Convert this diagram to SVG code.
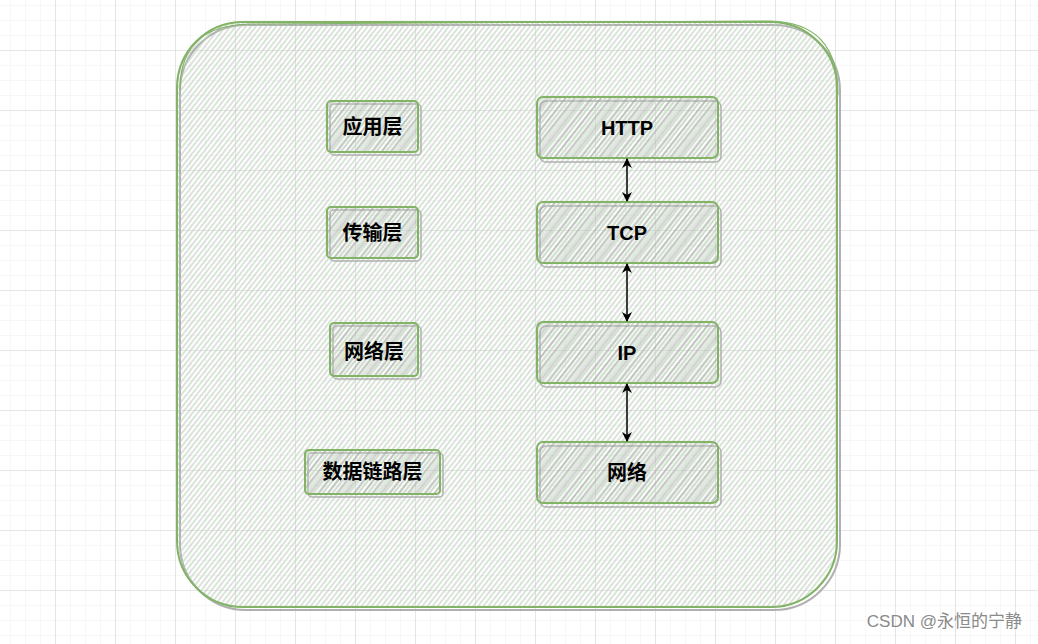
<svg xmlns="http://www.w3.org/2000/svg" width="1038" height="644" viewBox="0 0 1038 644">
<defs>
<pattern id="minor" width="15" height="15" patternUnits="userSpaceOnUse" x="10" y="5">
<path d="M0 0H15M0 0V15" stroke="#efefef" stroke-width="1" fill="none"/>
</pattern>
<pattern id="major" width="60" height="60" patternUnits="userSpaceOnUse" x="55" y="50">
<path d="M0 0H60M0 0V60" stroke="#d3d3d3" stroke-width="1" fill="none"/>
</pattern>
<pattern id="hatch" width="8" height="8" patternUnits="userSpaceOnUse" patternTransform="rotate(-52)">
<line x1="0" y1="2" x2="8" y2="2" stroke="#b6d3b2" stroke-width="1.1"/>
<line x1="0" y1="6" x2="8" y2="6" stroke="#bababa" stroke-width="0.9"/>
</pattern>
<pattern id="hatch2" width="7" height="7" patternUnits="userSpaceOnUse" patternTransform="rotate(-52)">
<line x1="0" y1="2" x2="7" y2="2" stroke="#a6a6a6" stroke-width="1"/>
<line x1="0" y1="5" x2="7" y2="5" stroke="#c2d8bf" stroke-width="1"/>
</pattern>
<marker id="ah" viewBox="0 0 10 10" refX="9" refY="5" markerWidth="10" markerHeight="10" orient="auto-start-reverse" markerUnits="userSpaceOnUse">
<path d="M0 0L10 5L0 10L3 5Z" fill="#000"/>
</marker>
</defs>
<style>
.box{fill:url(#hatch2);stroke:#82b366;stroke-width:2}
.sh{fill:none;stroke:#b0b0b0;stroke-width:1.5}
.t{font-family:"Liberation Sans","Noto Sans CJK SC",sans-serif;font-weight:bold;font-size:20px;fill:#000;text-anchor:middle;dominant-baseline:central}
.c{stroke:#000;stroke-width:1.5;fill:none}
</style>
<rect width="1038" height="644" fill="#fff"/>
<rect width="1038" height="644" fill="url(#minor)"/>
<rect width="1038" height="644" fill="url(#major)"/>
<g id="container">
<rect x="180" y="25" width="660" height="585" rx="66" fill="none" stroke="#b0b0b0" stroke-width="2"/>
<rect x="177" y="22" width="660" height="585" rx="66" fill="url(#hatch)" stroke="#82b366" stroke-width="2"/>
<path d="M180 90C180 40 210 25 250 24L770 21C815 22 838 45 838 95" fill="none" stroke="#82b366" stroke-width="1.2"/>
</g>
<g id="n-app">
<rect x="330" y="104" width="91" height="51" rx="4" class="sh"/>
<rect x="327" y="101" width="91" height="51" rx="4" class="box"/>
<text x="372.5" y="127" class="t">应用层</text>
</g>
<g id="n-trans">
<rect x="330" y="210" width="91" height="51" rx="4" class="sh"/>
<rect x="327" y="207" width="91" height="51" rx="4" class="box"/>
<text x="372.5" y="233" class="t">传输层</text>
</g>
<g id="n-net">
<rect x="333" y="326" width="88" height="53" rx="4" class="sh"/>
<rect x="330" y="323" width="88" height="53" rx="4" class="box"/>
<text x="374" y="352" class="t">网络层</text>
</g>
<g id="n-link">
<rect x="308" y="453" width="135" height="44" rx="4" class="sh"/>
<rect x="305" y="450" width="135" height="44" rx="4" class="box"/>
<text x="372.5" y="472" class="t">数据链路层</text>
</g>
<g id="n-http">
<rect x="540" y="101" width="181" height="61" rx="6" class="sh"/>
<rect x="537" y="97" width="181" height="61" rx="6" class="box"/>
<text x="627" y="128" class="t">HTTP</text>
</g>
<g id="n-tcp">
<rect x="540" y="206" width="181" height="61" rx="6" class="sh"/>
<rect x="537" y="202" width="181" height="61" rx="6" class="box"/>
<text x="627" y="233" class="t">TCP</text>
</g>
<g id="n-ip">
<rect x="540" y="326" width="181" height="61" rx="6" class="sh"/>
<rect x="537" y="322" width="181" height="61" rx="6" class="box"/>
<text x="627" y="353" class="t">IP</text>
</g>
<g id="n-net2">
<rect x="540" y="446" width="181" height="61" rx="6" class="sh"/>
<rect x="537" y="442" width="181" height="61" rx="6" class="box"/>
<text x="627" y="473" class="t">网络</text>
</g>
<g id="connectors">
<line x1="627" y1="159" x2="627" y2="201" class="c" marker-start="url(#ah)" marker-end="url(#ah)"/>
<line x1="627" y1="264" x2="627" y2="321" class="c" marker-start="url(#ah)" marker-end="url(#ah)"/>
<line x1="627" y1="384" x2="627" y2="441" class="c" marker-start="url(#ah)" marker-end="url(#ah)"/>
</g>
<text x="1022" y="627" font-family="Liberation Sans,Noto Sans CJK SC,sans-serif" font-size="17" fill="#8a8a8a" text-anchor="end">CSDN @永恒的宁静</text>
</svg>
